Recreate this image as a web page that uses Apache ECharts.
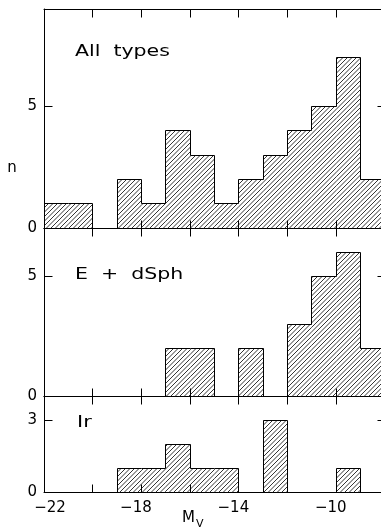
<!DOCTYPE html>
<html>
<head>
<meta charset="utf-8">
<script src="https://cdn.jsdelivr.net/npm/echarts@6/dist/echarts.min.js"></script>
<style>
html,body{margin:0;padding:0;background:#fff;}
#chart{width:381px;height:529px;}
</style>
</head>
<body>
<div id="chart"></div>
<script>
// ---- data ----
const binStarts = [-22,-21,-20,-19,-18,-17,-16,-15,-14,-13,-12,-11,-10,-9];
const binWidth = 1;
const allTypes = [1,1,0,2,1,4,3,1,2,3,4,5,7,2];
const eDsph    = [0,0,0,0,0,2,2,0,2,0,3,5,6,2];
const irr      = [0,0,0,1,1,2,1,1,0,3,0,0,1,0];
const panelLabels = ['All  types', 'E  +  dSph', 'Ir'];
const xTicks = [-22,-20,-18,-16,-14,-12,-10,-8];
const xTickLabels = [-22,-18,-14,-10];
const yTicks = [[0,5],[0,5],[0,3]];
const yMaxes = [9, 7, 4];
const X_MIN = -22, X_MAX = -8;

function makeHatch() {
  const s = 9, c = document.createElement('canvas');
  c.width = s; c.height = s;
  const g = c.getContext('2d');
  g.strokeStyle = '#111';
  g.lineWidth = 0.85;
  [0, 4.5, 9, 13.5, 18].forEach(k => {
    g.beginPath();
    g.moveTo(-2, k + 2);
    g.lineTo(k + 2, -2);
    g.stroke();
  });
  return {image: c, repeat: 'repeat'};
}
const hatch = makeHatch();
const crisp = p => Math.round(p - 0.5) + 0.5;

const chart = echarts.init(document.getElementById('chart'));
const series = [allTypes, eDsph, irr];
const gridDefs = [
  {left: 44, top: 9, width: 341, height: 219},
  {left: 44, top: 228, width: 341, height: 168},
  {left: 44, top: 396, width: 341, height: 96}
];
const FONT = 'DejaVu Sans';
const TICK = 8;
const xAxes = [], yAxes = [], ser = [];
const lineS = {color: '#000', width: 1};
gridDefs.forEach((gd, i) => {
  const isLast = i === gridDefs.length - 1;
  ['bottom', 'top'].forEach(pos => {
    xAxes.push({
      type: 'value', gridIndex: i, min: X_MIN, max: X_MAX, interval: 2, position: pos,
      axisLine: {show: true, onZero: false, lineStyle: lineS},
      axisTick: {show: false},
      splitLine: {show: false},
      axisLabel: {
        show: isLast && pos === 'bottom', color: '#000', fontFamily: FONT, fontSize: 15, margin: 9,
        customValues: xTickLabels,
        formatter: v => (v === X_MIN ? '{a|' : '{b|') + '\u2212' + Math.abs(v) + '}',
        rich: {
          a: {fontFamily: FONT, fontSize: 15, color: '#000', padding: [0, 0, 0, 12]},
          b: {fontFamily: FONT, fontSize: 15, color: '#000', padding: [0, 11, 0, 0]}
        }
      }
    });
  });
  ['left', 'right'].forEach(pos => {
    yAxes.push({
      type: 'value', gridIndex: i, min: 0, max: yMaxes[i], position: pos,
      axisLine: {show: true, onZero: false, lineStyle: lineS},
      axisTick: {show: false},
      splitLine: {show: false},
      axisLabel: {show: pos === 'left', color: '#000', fontFamily: FONT, fontSize: 15, margin: 7, customValues: yTicks[i]}
    });
  });

  const vals = series[i];
  const yMax = yMaxes[i];
  // hatched bins with step outline
  ser.push({
    type: 'custom', xAxisIndex: 2 * i, yAxisIndex: 2 * i,
    data: binStarts.map((x, k) => [x, vals[k], k > 0 ? vals[k - 1] : 0, k === binStarts.length - 1 ? 1 : 0]),
    encode: {x: 0, y: 1},
    clip: false, silent: true, z: 2,
    renderItem: (params, api) => {
      const x0 = api.value(0), v = api.value(1), prev = api.value(2), last = api.value(3);
      const pTop = api.coord([x0, v]);
      const pBase = api.coord([x0 + binWidth, 0]);
      const pPrev = api.coord([x0, prev]);
      const xl = crisp(pTop[0]), xr = crisp(pBase[0]);
      const yt = crisp(pTop[1]), yb = crisp(pBase[1]), yp = crisp(pPrev[1]);
      const children = [];
      if (v) {
        children.push({type: 'rect', shape: {x: xl, y: yt, width: xr - xl, height: yb - yt},
                       style: {fill: hatch, stroke: null}});
      }
      const pts = [[xl, yp], [xl, yt], [xr, yt]];
      if (last) pts.push([xr, yb]);
      children.push({type: 'polyline', shape: {points: pts},
                     style: {stroke: '#000', lineWidth: 1, fill: null}});
      return {type: 'group', children: children};
    }
  });
  // x ticks (inward, bottom & top)
  ser.push({
    type: 'custom', xAxisIndex: 2 * i, yAxisIndex: 2 * i,
    data: xTicks.map(x => [x, 0]),
    encode: {x: 0, y: 1},
    clip: false, silent: true, z: 4,
    renderItem: (params, api) => {
      const b = api.coord([api.value(0), 0]);
      const t = api.coord([api.value(0), yMax]);
      const x = crisp(b[0]), yb = crisp(b[1]), yt = crisp(t[1]);
      return {type: 'group', children: [
        {type: 'line', shape: {x1: x, y1: yb, x2: x, y2: yb - TICK}, style: {stroke: '#000', lineWidth: 1}},
        {type: 'line', shape: {x1: x, y1: yt, x2: x, y2: yt + TICK}, style: {stroke: '#000', lineWidth: 1}}
      ]};
    }
  });
  // y ticks (inward, left & right)
  ser.push({
    type: 'custom', xAxisIndex: 2 * i, yAxisIndex: 2 * i,
    data: yTicks[i].map(y => [X_MIN, y]),
    encode: {x: 0, y: 1},
    clip: false, silent: true, z: 4,
    renderItem: (params, api) => {
      const l = api.coord([X_MIN, api.value(1)]);
      const r = api.coord([X_MAX, api.value(1)]);
      const y = crisp(l[1]), xl = crisp(l[0]), xr = crisp(r[0]);
      return {type: 'group', children: [
        {type: 'line', shape: {x1: xl, y1: y, x2: xl + TICK, y2: y}, style: {stroke: '#000', lineWidth: 1}},
        {type: 'line', shape: {x1: xr, y1: y, x2: xr - TICK, y2: y}, style: {stroke: '#000', lineWidth: 1}}
      ]};
    }
  });
});

const graphics = [
  {type: 'text', x: 75, y: 52, scaleX: 1.28, style: {text: panelLabels[0], font: '16px "DejaVu Sans"', fill: '#000', textAlign: 'left', textVerticalAlign: 'middle'}},
  {type: 'text', x: 75, y: 275, scaleX: 1.28, style: {text: panelLabels[1], font: '16px "DejaVu Sans"', fill: '#000', textAlign: 'left', textVerticalAlign: 'middle'}},
  {type: 'text', x: 77, y: 423, scaleX: 1.3, style: {text: panelLabels[2], font: '16px "DejaVu Sans"', fill: '#000', textAlign: 'left', textVerticalAlign: 'middle'}},
  {type: 'text', x: 12, y: 168, style: {text: 'n', font: '15px "DejaVu Sans"', fill: '#000', textAlign: 'center', textVerticalAlign: 'middle'}},
  {type: 'text', x: 182, y: 518, style: {text: 'M', font: '15px "DejaVu Sans"', fill: '#000', textAlign: 'left', textVerticalAlign: 'middle'}},
  {type: 'text', x: 196, y: 524, style: {text: 'V', font: '11px "DejaVu Sans"', fill: '#000', textAlign: 'left', textVerticalAlign: 'middle'}}
];

chart.setOption({
  animation: false,
  backgroundColor: '#fff',
  grid: gridDefs.map(g => Object.assign({outerBoundsMode: 'none', containLabel: false}, g)),
  xAxis: xAxes,
  yAxis: yAxes,
  series: ser,
  graphic: graphics
});
</script>
</body>
</html>
